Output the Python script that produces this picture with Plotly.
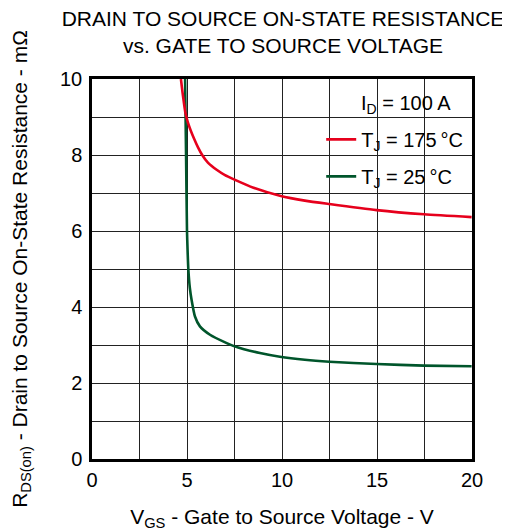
import plotly.graph_objects as go

# Data
vgs_175 = [4.68, 4.79, 4.92, 5.05, 5.2, 5.38, 5.58, 5.8, 6.1, 6.56, 7.0, 7.47, 8.5, 9.89, 11.2, 12.49, 14.98, 17.47, 19.98]
rds_175 = [10.0, 9.55, 9.1, 8.85, 8.64, 8.42, 8.2, 8.0, 7.8, 7.61, 7.47, 7.36, 7.14, 6.93, 6.8, 6.71, 6.55, 6.44, 6.365]

vgs_25 = [4.9, 4.95, 5.0, 5.03, 5.07, 5.15, 5.24, 5.42, 5.68, 6.21, 7.09, 7.47, 8.0, 8.84, 9.89, 11.2, 12.49, 14.98, 17.47, 19.98]
rds_25 = [10.0, 8.0, 6.0, 5.5, 5.0, 4.5, 4.19, 3.75, 3.49, 3.27, 3.05, 2.97, 2.89, 2.79, 2.69, 2.61, 2.56, 2.50, 2.457, 2.44]

x_tickvals = [0, 2.5, 5, 7.5, 10, 12.5, 15, 17.5, 20]
x_ticktext = ["0", "", "5", "", "10", "", "15", "", "20"]
y_tickvals = [0, 1, 2, 3, 4, 5, 6, 7, 8, 9, 10]
y_ticktext = ["0", "", "2", "", "4", "", "6", "", "8", "", "10"]

legend_title = "I<sub>D</sub> = 100 A"

FONT = "Arial, 'Liberation Sans', sans-serif"

fig = go.Figure()
fig.add_trace(go.Scatter(
    x=vgs_25, y=rds_25, mode="lines", name="T<sub>J</sub> = 25\u2009°C",
    line=dict(color="#00552b", width=2.6, shape="spline", smoothing=0.6),
    legendrank=2, legendgroup="b",
))
fig.add_trace(go.Scatter(
    x=vgs_175, y=rds_175, mode="lines", name="T<sub>J</sub> = 175\u2009°C",
    line=dict(color="#e6001c", width=2.6, shape="spline", smoothing=0.6),
    legendrank=1, legendgroup="a",
))

axis_common = dict(
    showline=True, linecolor="black", linewidth=2.5, mirror=True,
    showgrid=True, gridcolor="#222222", gridwidth=1.2,
    zeroline=False, ticks="", tickfont=dict(family=FONT, size=20, color="black"),
    tickmode="array",
)

fig.update_xaxes(
    range=[0, 20], tickvals=x_tickvals, ticktext=x_ticktext,
    title=dict(text="V<sub>GS</sub> - Gate to Source Voltage - V",
               font=dict(family=FONT, size=21, color="black"), standoff=20),
    ticklabelstandoff=1,
    **axis_common,
)
fig.update_yaxes(
    range=[0, 10], tickvals=y_tickvals, ticktext=y_ticktext,
    title=dict(text="R<sub>DS(on)</sub> - Drain to Source On-State Resistance - mΩ",
               font=dict(family=FONT, size=21, color="black"), standoff=36),
    ticklabelstandoff=3,
    **axis_common,
)

# white panel behind the legend (hides gridlines, stays under the curves)
fig.add_shape(type="rect", xref="paper", yref="paper",
              x0=0.5816, x1=0.987, y0=0.684, y1=0.976,
              fillcolor="white", line=dict(width=0), layer="between")

fig.add_annotation(text=legend_title, xref="paper", yref="paper",
                   x=0.95, y=0.934, xanchor="right", yanchor="middle",
                   showarrow=False, font=dict(family=FONT, size=20, color="black"))

fig.update_layout(
    width=502, height=524,
    margin=dict(l=84, r=38, t=71, b=73, autoexpand=False),
    paper_bgcolor="white", plot_bgcolor="white",
    font=dict(family=FONT, size=20, color="black"),
    title=dict(
        text="DRAIN TO SOURCE ON-STATE RESISTANCE<br>vs. GATE TO SOURCE VOLTAGE",
        font=dict(family=FONT, size=21, color="black"),
        x=275 / 502, xanchor="center", xref="container",
        y=1 - 18 / 524, yanchor="top", yref="container",
    ),
    legend=dict(
        x=0.990, xanchor="right", y=0.8925, yanchor="top",
        bgcolor="rgba(0,0,0,0)", borderwidth=0,
        font=dict(family=FONT, size=20, color="black"),
        tracegroupgap=8, itemwidth=30,
    ),
    showlegend=True,
)

fig.write_html("out.html")
